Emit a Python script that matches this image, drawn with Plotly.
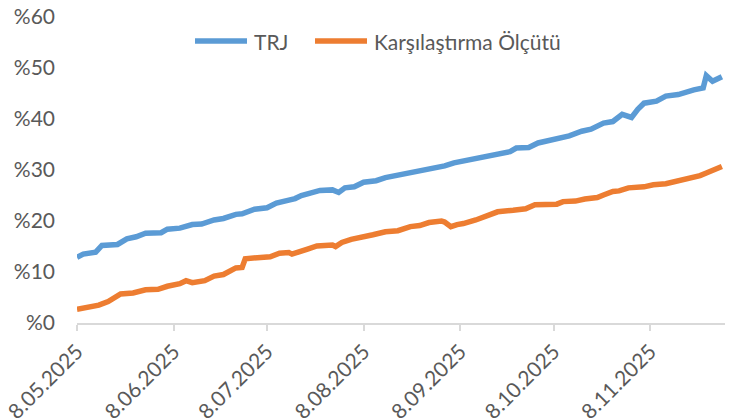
import plotly.graph_objects as go

trj_dates = ["2025-05-08","2025-05-10","2025-05-14","2025-05-16","2025-05-21","2025-05-24","2025-05-27","2025-05-30",
             "2025-06-04","2025-06-06","2025-06-10","2025-06-14","2025-06-17","2025-06-21","2025-06-24","2025-06-28","2025-06-30",
             "2025-07-04","2025-07-08","2025-07-11","2025-07-15","2025-07-17","2025-07-19","2025-07-23","2025-07-25","2025-07-29","2025-07-31",
             "2025-08-02","2025-08-05","2025-08-08","2025-08-12","2025-08-15","2025-08-19","2025-08-23","2025-08-26","2025-08-30",
             "2025-09-03","2025-09-06","2025-09-09","2025-09-13","2025-09-17","2025-09-20","2025-09-24","2025-09-26","2025-09-30",
             "2025-10-03","2025-10-06","2025-10-09","2025-10-13","2025-10-17","2025-10-20","2025-10-24","2025-10-27","2025-10-30",
             "2025-11-02","2025-11-04","2025-11-06","2025-11-10","2025-11-13","2025-11-17","2025-11-20","2025-11-22","2025-11-25",
             "2025-11-26","2025-11-28","2025-12-01"]
trj_values = [12.9,13.5,13.9,15.2,15.4,16.5,16.9,17.6,
              17.7,18.4,18.6,19.3,19.4,20.2,20.5,21.3,21.4,
              22.3,22.6,23.5,24.1,24.4,25.0,25.5,26.0,26.1,25.6,
              26.5,26.7,27.6,27.9,28.5,29.0,29.5,29.7,30.3,
              30.8,31.4,31.8,32.4,32.8,33.3,33.6,34.3,34.4,
              35.3,35.7,36.3,36.7,37.6,38.0,39.2,39.5,40.9,
              40.3,41.9,43.1,43.5,44.5,44.8,45.5,45.7,46.1,
              48.5,47.4,48.3]

bm_dates = ["2025-05-08","2025-05-15","2025-05-18","2025-05-20","2025-05-22","2025-05-26","2025-05-30",
            "2025-06-03","2025-06-06","2025-06-10","2025-06-12","2025-06-14","2025-06-18","2025-06-21","2025-06-24","2025-06-28","2025-06-30",
            "2025-07-01","2025-07-05","2025-07-09","2025-07-12","2025-07-15","2025-07-16","2025-07-18","2025-07-21","2025-07-24","2025-07-29","2025-07-30",
            "2025-08-01","2025-08-04","2025-08-07","2025-08-11","2025-08-15","2025-08-19","2025-08-23","2025-08-26","2025-08-29",
            "2025-09-02","2025-09-03","2025-09-05","2025-09-07","2025-09-09","2025-09-13","2025-09-17","2025-09-20","2025-09-25","2025-09-29",
            "2025-10-02","2025-10-06","2025-10-09","2025-10-11","2025-10-15","2025-10-18","2025-10-22","2025-10-24","2025-10-27","2025-10-29",
            "2025-11-01","2025-11-06","2025-11-09","2025-11-13","2025-11-17","2025-11-19","2025-11-24","2025-11-26","2025-11-29","2025-12-01"]
bm_values = [2.7,3.5,4.2,4.8,5.7,5.9,6.5,
             6.6,7.2,7.7,8.3,7.9,8.3,9.2,9.5,10.8,10.9,
             12.6,12.9,13.0,13.7,13.8,13.5,14.0,14.5,15.1,15.3,15.0,
             15.8,16.4,16.7,17.3,17.9,18.1,18.9,19.1,19.7,
             20.0,19.8,18.9,19.3,19.5,20.2,21.2,21.8,22.1,22.4,
             23.2,23.4,23.3,23.8,23.9,24.3,24.6,25.1,25.8,25.9,
             26.5,26.7,27.1,27.3,27.8,28.3,28.9,29.4,30.2,30.7]

series_names = ["TRJ", "Karşılaştırma Ölçütü"]
series_colors = ["#5B9BD5", "#ED7D31"]

x_tick_vals = ["2025-05-08","2025-06-08","2025-07-08","2025-08-08","2025-09-08","2025-10-08","2025-11-08"]
x_tick_text = ["8.05.2025","8.06.2025","8.07.2025","8.08.2025","8.09.2025","8.10.2025","8.11.2025"]
y_tick_vals = [0,10,20,30,40,50,60]
y_tick_text = ["%0","%10","%20","%30","%40","%50","%60"]

FONT = "Lato, 'Open Sans', sans-serif"
GREY = "#595959"

W, H = 726, 412
ML, MR, MT, MB = 69, 9, 9, 97
PW, PH = W - ML - MR, H - MT - MB

def px_x(p):
    return (p - ML) / PW

def px_y(p):
    return (H - MB - p) / PH

fig = go.Figure()
fig.add_trace(go.Scatter(x=trj_dates, y=trj_values, mode="lines", name=series_names[0],
                         line=dict(color=series_colors[0], width=5.5), showlegend=False))
fig.add_trace(go.Scatter(x=bm_dates, y=bm_values, mode="lines", name=series_names[1],
                         line=dict(color=series_colors[1], width=5.5), showlegend=False))

# legend drawn as glyph + text (pixel layout of the reference legend)
legend_glyph_px = [(187, 239), (307, 359)]
legend_text_px = [244, 364]
legend_y_px = 33
for name, col, (g0, g1), tx in zip(series_names, series_colors, legend_glyph_px, legend_text_px):
    fig.add_shape(type="line", xref="paper", yref="paper",
                  x0=px_x(g0), x1=px_x(g1), y0=px_y(legend_y_px), y1=px_y(legend_y_px),
                  line=dict(color=col, width=5.5))
    fig.add_annotation(xref="paper", yref="paper", x=px_x(tx), y=px_y(legend_y_px),
                       xanchor="left", yanchor="middle", showarrow=False,
                       text=name, font=dict(size=21, color=GREY, family=FONT))

fig.update_layout(
    width=W, height=H,
    margin=dict(l=ML, r=MR, t=MT, b=MB),
    paper_bgcolor="white", plot_bgcolor="white",
    font=dict(family=FONT, color=GREY, size=21),
    showlegend=False,
)
fig.update_xaxes(type="date", range=["2025-05-08", "2025-12-02"],
                 tickmode="array", tickvals=x_tick_vals, ticktext=x_tick_text,
                 tickangle=-45, showgrid=False, zeroline=False,
                 showline=True, linecolor="#D9D9D9", linewidth=2,
                 ticks="outside", ticklen=6, tickcolor="#D9D9D9", tickwidth=2,
                 tickfont=dict(size=21, color=GREY, family=FONT), automargin=False,
                 ticklabeloverflow="allow")
fig.update_yaxes(range=[0, 60], tickmode="array", tickvals=y_tick_vals, ticktext=y_tick_text,
                 showgrid=False, zeroline=False, showline=False, ticks="",
                 tickfont=dict(size=21, color=GREY, family=FONT), automargin=False,
                 ticklabelstandoff=21, ticklabeloverflow="allow")

fig.write_html("out.html")
